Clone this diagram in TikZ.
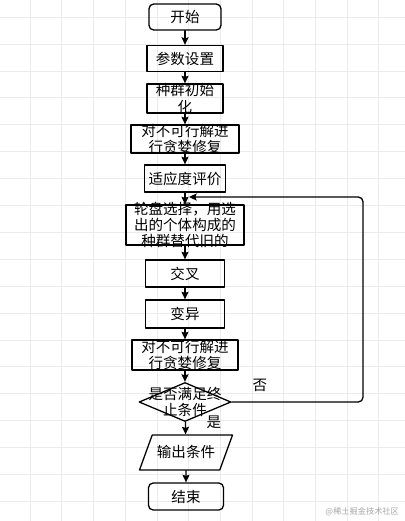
\documentclass[tikz,border=0pt]{standalone}
\usepackage{fontspec}
\setmainfont{Noto Sans CJK SC}
\usetikzlibrary{arrows.meta,shapes.geometric}
\definecolor{gridgray}{HTML}{EBEBEB}
\tikzset{
  every picture/.style={line join=round, line cap=round, >=Stealth},
  txt/.style={font=\fontsize{12.4pt}{14pt}\selectfont, align=center},
  box/.style={draw, line width=1.1pt, inner sep=0pt, txt},
  term/.style={box, rounded corners=4pt},
  choice/.style={box, diamond},
  io/.style={box, trapezium, trapezium left angle=70, trapezium right angle=110, trapezium stretches body,
    text height=9pt, text depth=1pt, inner ysep=9.9pt},
  flow/.style={line width=1.1pt, -{Stealth[length=6.5pt,width=6pt,inset=1pt]}},
  gridline/.style={gridgray, line width=0.5pt},
}

\begin{document}
\begin{tikzpicture}[x=0.03cm,y=-0.03cm]
\useasboundingbox (0,0) rectangle (405,521);
% background grid
\foreach \i in {1,...,12} \draw[gridline] ({-1.7+31.7*\i},0) -- ({-1.7+31.7*\i},521);
\foreach \j in {0,...,18} \draw[gridline] (0,{17+26.9*\j}) -- (405,{17+26.9*\j});

\node[term, minimum width=2.16cm, minimum height=0.78cm] (start) at (185,17) {开始};
\node[box, minimum width=2.28cm, minimum height=0.78cm] (param) at (185,58.5) {参数设置};
\node[box, minimum width=2.28cm, minimum height=0.87cm, label={[txt]center:种群初始\\化}] (init) at (185,98.5) {};
\node[box, minimum width=3.24cm, minimum height=0.84cm, label={[txt]center:对不可行解进\\行贪婪修复}] (repair1) at (185,139) {};
\node[box, minimum width=2.43cm, minimum height=0.81cm] (fit) at (185,178.5) {适应度评价};
\node[box, minimum width=3.54cm, minimum height=1.2cm, label={[txt]center:轮盘选择，用选\\出的个体构成的\\种群替代旧的}] (select) at (185,225) {};
\node[box, minimum width=2.37cm, minimum height=0.81cm] (cross) at (185,273.5) {交叉};
\node[box, minimum width=2.37cm, minimum height=0.84cm] (mutate) at (185,314) {变异};
\node[box, minimum width=3.18cm, minimum height=0.9cm, label={[txt]center:对不可行解进\\行贪婪修复}] (repair2) at (185,355) {};
\node[choice, minimum width=2.76cm, minimum height=1.17cm, label={[txt]center:是否满足终\\止条件}] (check) at (185,402) {};
\node[io, minimum width=2.79cm] (output) at (186,452.5) {输出条件};
\node[term, minimum width=2.25cm, minimum height=0.81cm] (stop) at (186,496.5) {结束};

\coordinate (join) at (189,197);
\coordinate (back) at (363,197);

\draw[flow] (start) -- (param);
\draw[flow] (param) -- (init);
\draw[flow] (init) -- (repair1);
\draw[flow] (repair1) -- (fit);
\draw[flow] (fit) -- (select);
\draw[flow] (select) -- (cross);
\draw[flow] (cross) -- (mutate);
\draw[flow] (mutate) -- (repair2);
\draw[flow] (repair2) -- (check);
\draw[flow] (check) -- (output);
\draw[flow] (output) -- (stop);
\draw[flow, rounded corners=4pt] (check.east) -| (back) -- (join);

\node[txt] (no) at (260,385) {否};
\node[txt] (yes) at (214,422) {是};
\node[font=\fontsize{7pt}{8pt}\selectfont, text=gray!70, anchor=east] (mark) at (403,512) {@稀土掘金技术社区};
\end{tikzpicture}
\end{document}
